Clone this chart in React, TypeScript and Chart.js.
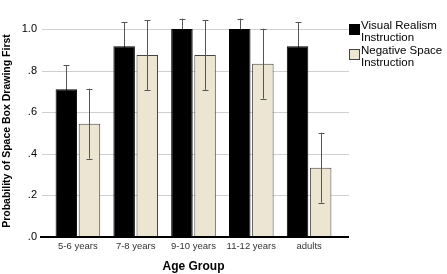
import React, { useEffect, useRef } from "react";
import { Chart, registerables } from "chart.js";

Chart.register(...registerables);

const categories = ["5-6 years", "7-8 years", "9-10 years", "11-12 years", "adults"];
const visualRealism = [0.71, 0.917, 1.0, 1.0, 0.917];
const negativeSpace = [0.545, 0.875, 0.875, 0.833, 0.333];
const visualRealismErr = [0.115, 0.115, 0.05, 0.05, 0.115];
const negativeSpaceErr = [0.168, 0.168, 0.168, 0.168, 0.168];
const yTickLabels = [".0", ".2", ".4", ".6", ".8", "1.0"];
const seriesNames = [["Visual Realism", "Instruction"], ["Negative Space", "Instruction"]];
const yTitle = "Probability of Space Box Drawing First";
const xTitle = "Age Group";

const FONT = '"Liberation Sans", Arial, sans-serif';
const BEIGE = "#ebe5d2";

function drawErrors(chart: any, dsIndex: number, errs: number[]) {
  const ctx = chart.ctx;
  const y = chart.scales.y;
  const meta = chart.getDatasetMeta(dsIndex);
  const vals = chart.data.datasets[dsIndex].data as number[];
  ctx.save();
  ctx.strokeStyle = "#555";
  ctx.lineWidth = 1;
  meta.data.forEach((el: any, i: number) => {
    const x = Math.round(el.x) + 0.5;
    const top = y.getPixelForValue(vals[i] + errs[i]);
    const bot = y.getPixelForValue(vals[i] - errs[i]);
    ctx.beginPath();
    ctx.moveTo(x, top);
    ctx.lineTo(x, bot);
    ctx.moveTo(x - 3, Math.round(top) + 0.5);
    ctx.lineTo(x + 3, Math.round(top) + 0.5);
    ctx.moveTo(x - 3, Math.round(bot) + 0.5);
    ctx.lineTo(x + 3, Math.round(bot) + 0.5);
    ctx.stroke();
  });
  ctx.restore();
}

const decorPlugin = {
  id: "decor",
  beforeDatasetsDraw(chart: any) {
    const ctx = chart.ctx;
    const y = chart.scales.y;
    ctx.save();
    ctx.strokeStyle = "#d0d0d0";
    ctx.lineWidth = 1;
    y.ticks.forEach((t: any) => {
      if (t.value === 0) return;
      const py = Math.round(y.getPixelForValue(t.value)) + 0.5;
      ctx.beginPath();
      ctx.moveTo(42, py);
      ctx.lineTo(349, py);
      ctx.stroke();
    });
    ctx.restore();
    drawErrors(chart, 0, visualRealismErr);
  },
  afterDatasetsDraw(chart: any) {
    drawErrors(chart, 1, negativeSpaceErr);
    const ctx = chart.ctx;
    const y = chart.scales.y;
    const py = y.getPixelForValue(0);
    ctx.save();
    ctx.strokeStyle = "#000";
    ctx.lineWidth = 2;
    ctx.beginPath();
    ctx.moveTo(40, py);
    ctx.lineTo(349, py);
    ctx.stroke();
    ctx.restore();
  },
  afterDraw(chart: any) {
    const ctx = chart.ctx;
    ctx.save();
    // y title
    ctx.translate(7, 131);
    ctx.rotate(-Math.PI / 2);
    ctx.font = "bold 10.5px " + FONT;
    ctx.fillStyle = "#000";
    ctx.textAlign = "center";
    ctx.textBaseline = "middle";
    ctx.fillText(yTitle, 0, 0);
    ctx.restore();
    // legend
    ctx.save();
    ctx.font = "11.5px " + FONT;
    ctx.textBaseline = "middle";
    ctx.textAlign = "left";
    const fills = ["#000", BEIGE];
    const borders = ["#000", "#444"];
    const tops = [24, 49];
    for (let k = 0; k < 2; k++) {
      ctx.fillStyle = fills[k];
      ctx.fillRect(349, tops[k], 11, 11);
      ctx.strokeStyle = borders[k];
      ctx.lineWidth = 1;
      ctx.strokeRect(349.5, tops[k] + 0.5, 10, 10);
      ctx.fillStyle = "#000";
      ctx.fillText(seriesNames[k][0], 361, tops[k] + 2);
      ctx.fillText(seriesNames[k][1], 361, tops[k] + 14);
    }
    ctx.restore();
  },
};

export default function App() {
  const ref = useRef<HTMLCanvasElement>(null);
  useEffect(() => {
    if (!ref.current) return;
    const chart = new Chart(ref.current, {
      type: "bar",
      data: {
        labels: categories,
        datasets: [
          {
            label: seriesNames[0].join(" "),
            data: visualRealism,
            backgroundColor: "#000",
            borderColor: "#000",
            borderWidth: 1,
            categoryPercentage: 0.8,
            barPercentage: 0.93,
          },
          {
            label: seriesNames[1].join(" "),
            data: negativeSpace,
            backgroundColor: BEIGE,
            borderColor: "#444",
            borderWidth: 1,
            categoryPercentage: 0.8,
            barPercentage: 0.93,
          },
        ],
      },
      options: {
        responsive: false,
        animation: false,
        layout: { padding: { left: 0, right: 109, top: 3, bottom: 0 } },
        plugins: { legend: { display: false }, tooltip: { enabled: false } },
        scales: {
          x: {
            grid: { display: false, drawTicks: false },
            border: { display: false },
            ticks: {
              font: { size: 9.5, family: FONT },
              color: "#333",
              padding: 4,
              maxRotation: 0,
              autoSkip: false,
            },
            title: {
              display: true,
              text: xTitle,
              font: { size: 12, weight: "bold", family: FONT },
              color: "#000",
              padding: { top: 0, bottom: 0 },
            },
            afterFit(s: any) {
              s.height = 37;
            },
          },
          y: {
            min: 0,
            max: 1.05,
            grid: { display: false, drawTicks: false },
            border: { display: false },
            ticks: {
              stepSize: 0.2,
              includeBounds: false,
              padding: 12,
              color: "#000",
              font: { size: 11, family: FONT },
              callback: (_v: any, i: number) => yTickLabels[i],
            },
            afterFit(s: any) {
              s.width = 49;
            },
          },
        },
      } as any,
      plugins: [decorPlugin],
    });
    return () => chart.destroy();
  }, []);
  return (
    <div style={{ position: "fixed", left: 0, top: 0, width: 447, height: 274, background: "#fff" }}>
      <canvas ref={ref} width={447} height={274} style={{ display: "block" }} />
    </div>
  );
}
